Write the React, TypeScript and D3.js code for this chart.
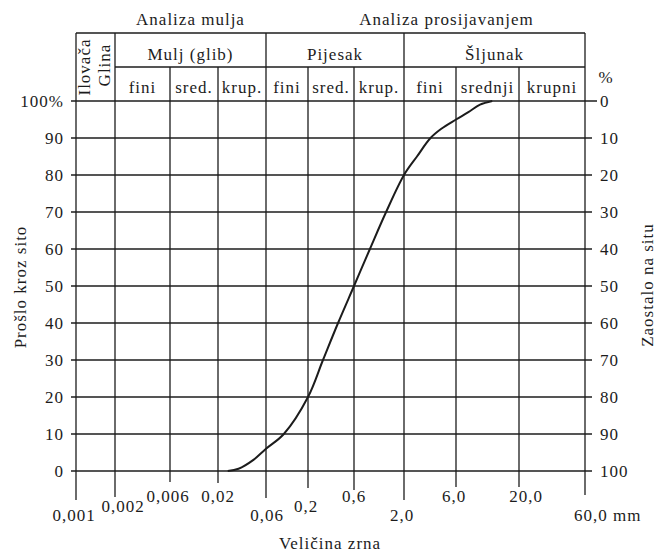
import React from 'react';
import * as d3 from 'd3';

// sieve sizes (mm) printed on the x axis
const sizeTicks = [0.001, 0.002, 0.006, 0.02, 0.06, 0.2, 0.6, 2, 6, 20, 60];
const sizeLabels = ['0,001', '0,002', '0,006', '0,02', '0,06', '0,2', '0,6', '2,0', '6,0', '20,0', '60,0 mm'];
const percentTicks = [0, 10, 20, 30, 40, 50, 60, 70, 80, 90, 100];

// grading curve
const grainSize = [0.025, 0.032, 0.045, 0.06, 0.1, 0.2, 0.286, 0.41, 0.6, 0.88, 1.3, 2.0, 2.63, 3.5, 4.4, 6.0, 7.6, 9.5, 12];
const passing = [0, 0.6, 3, 6, 10, 20, 30, 40, 50, 60, 70, 80, 85, 90, 92.5, 95, 97, 99, 100];

// header table
const mainGroups = [
  { name: 'Mulj (glib)', from: 0.002, to: 0.06 },
  { name: 'Pijesak', from: 0.06, to: 2 },
  { name: 'Šljunak', from: 2, to: 60 },
];
const subGroups = [
  { name: 'fini', from: 0.002, to: 0.006 },
  { name: 'sred.', from: 0.006, to: 0.02 },
  { name: 'krup.', from: 0.02, to: 0.06 },
  { name: 'fini', from: 0.06, to: 0.2 },
  { name: 'sred.', from: 0.2, to: 0.6 },
  { name: 'krup.', from: 0.6, to: 2 },
  { name: 'fini', from: 2, to: 6 },
  { name: 'srednji', from: 6, to: 20 },
  { name: 'krupni', from: 20, to: 60 },
];

// printed paper is not a clean log grid, so the scale is piecewise
const paperX = [76, 115, 170, 218, 266, 308, 354, 404, 456, 519, 585];
// how far each vertical line hangs below 0 %, and label stagger
const tickDrop = [29, 26, 11, 12, 27, 17, 19, 29, 16, 16, 24];
const labelRow = [2, 1, 0, 0, 2, 1, 0, 2, 0, 0, 2];
const labelDx = [-2, 8, -2, 0, 1, -2, 0, -2, -2, 7, 0];

const serif = "'Liberation Serif', 'Times New Roman', Times, serif";
const ink = '#1c1c1c';

export default function App() {
  const width = 658;
  const height = 556;
  const headTop = 33;
  const headMid = 67;

  const xScale = d3.scaleLog().domain(sizeTicks).range(paperX);
  const yScale = d3.scaleLinear().domain([0, 100]).range([471, 101]);
  const xLeft = xScale(0.001);
  const xRight = xScale(60);

  const points = grainSize.map((s, i) => ({ s, p: passing[i] }));
  const line = d3.line<{ s: number; p: number }>()
    .x((d) => xScale(d.s))
    .y((d) => yScale(d.p))
    .curve(d3.curveCatmullRom.alpha(0.5));

  const subBounds = subGroups.map((g) => g.from);
  const rowBaseY = [502, 512, 521];

  return (
    <svg width={width} height={height} style={{ position: 'absolute', left: 0, top: 0, background: '#fff' }}>
      <g style={{ fontFamily: serif }} fontSize={17} letterSpacing={1} fill={ink}>
        {/* horizontal grid */}
        {percentTicks.map((t) => (
          <g key={t}>
            <line x1={xLeft - 5} x2={xRight + (t === 100 ? 12 : 7)} y1={yScale(t)} y2={yScale(t)} stroke={ink} strokeWidth={1.3} />
            <text x={64} y={yScale(t) + 6} textAnchor="end">{t === 100 ? '100%' : t}</text>
            <text x={600} y={yScale(t) + 6} textAnchor="start">{100 - t}</text>
          </g>
        ))}
        {/* vertical grid */}
        {sizeTicks.map((s, i) => {
          const top = (i === 0 || i === sizeTicks.length - 1 || s === 0.002 || s === 0.06 || s === 2)
            ? headTop : (subBounds.includes(s) || s === 0.2 || s === 0.6 || s === 20 ? headMid : yScale(100));
          return (
            <g key={s}>
              <line x1={xScale(s)} x2={xScale(s)} y1={top} y2={yScale(0) + tickDrop[i]} stroke={ink} strokeWidth={1.3} />
              <text
                x={xScale(s) + labelDx[i] + (i === sizeTicks.length - 1 ? -11 : 0)}
                y={rowBaseY[labelRow[i]]}
                textAnchor={i === sizeTicks.length - 1 ? 'start' : 'middle'}
              >
                {sizeLabels[i]}
              </text>
            </g>
          );
        })}
        {/* header table */}
        <line x1={xLeft} x2={xRight} y1={headTop} y2={headTop} stroke={ink} strokeWidth={1.3} />
        <line x1={xScale(0.002)} x2={xRight} y1={headMid} y2={headMid} stroke={ink} strokeWidth={1.3} />
        {mainGroups.map((g) => (
          <text key={g.name} x={(xScale(g.from) + xScale(g.to)) / 2} y={60} textAnchor="middle">{g.name}</text>
        ))}
        {subGroups.map((g) => (
          <text key={g.from} x={(xScale(g.from) + xScale(g.to)) / 2} y={93} textAnchor="middle">{g.name}</text>
        ))}
        <text transform={`translate(${xLeft + 14},67) rotate(-90)`} textAnchor="middle">Ilovača</text>
        <text transform={`translate(${xLeft + 34},65) rotate(-90)`} textAnchor="middle">Glina</text>
        <text x={(xScale(0.002) + xScale(0.06)) / 2} y={25} textAnchor="middle">Analiza mulja</text>
        <text x={(xScale(0.2) + xScale(60)) / 2} y={25} textAnchor="middle">Analiza prosijavanjem</text>
        <text x={606} y={83} textAnchor="middle">%</text>

        {/* axis titles */}
        <text transform="translate(26,287) rotate(-90)" textAnchor="middle">Prošlo kroz sito</text>
        <text transform="translate(653,285) rotate(-90)" textAnchor="middle">Zaostalo na situ</text>
        <text x={330} y={549} textAnchor="middle">Veličina zrna</text>

        {/* grading curve */}
        <path d={line(points) || ''} fill="none" stroke={ink} strokeWidth={2} />
      </g>
    </svg>
  );
}
